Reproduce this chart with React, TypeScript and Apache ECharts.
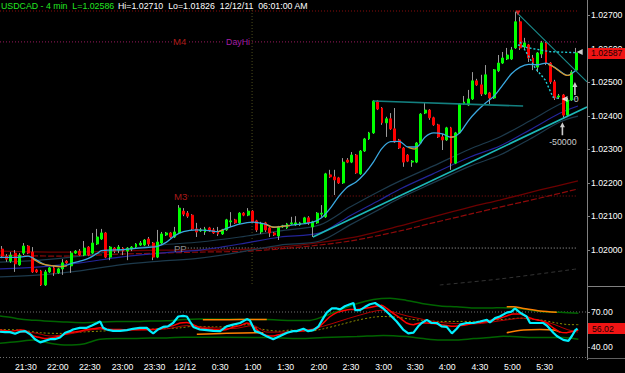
import React, { useEffect, useRef } from "react";
import * as echarts from "echarts";

// ---------- DATA ----------
const SLOT_COUNT = 136;

const opens = [1.02003,1.01982,1.01967,1.01991,1.01956,1.01991,1.02012,1.01994,1.01941,1.01938,
1.01896,1.01935,1.01947,1.01932,1.01944,1.01967,1.01953,1.01991,1.01997,1.01985,
1.02009,1.01991,1.02018,1.02033,1.02051,1.01979,1.02006,1.02000,1.02006,1.01997,
1.02003,1.02009,1.02015,1.02015,1.02033,1.02021,1.01979,1.02021,1.02045,1.02051,
1.02039,1.02051,1.02116,1.02110,1.02104,1.02063,1.02057,1.02054,1.02066,1.02060,
1.02054,1.02048,1.02060,1.02084,1.02090,1.02081,1.02110,1.02104,1.02116,1.02087,
1.02054,1.02081,1.02066,1.02051,1.02042,1.02069,1.02066,1.02078,1.02075,1.02075,
1.02081,1.02096,1.02069,1.02081,1.02107,1.02099,1.02224,1.02218,1.02215,1.02200,
1.02268,1.02262,1.02283,1.02227,1.02295,1.02331,1.02349,1.02444,1.02423,1.02379,
1.02391,1.02361,1.02328,1.02304,1.02283,1.02262,1.02262,1.02319,1.02408,1.02417,
1.02394,1.02373,1.02337,1.02328,1.02364,1.02259,1.02349,1.02435,1.02432,1.02450,
1.02504,1.02492,1.02465,1.02468,1.02453,1.02534,1.02557,1.02569,1.02569,1.02602,
1.02680,1.02605,1.02611,1.02572,1.02545,1.02584,1.02617,1.02557,1.02501,1.02456,
1.02462,1.02402,1.02447,1.02536];

const closes = [1.01982,1.01973,1.01985,1.01959,1.01985,1.02012,1.01991,1.01935,1.01935,1.01896,
1.01935,1.01947,1.01932,1.01944,1.01962,1.01962,1.01991,1.01997,1.01985,1.02006,
1.01985,1.02021,1.02039,1.02051,1.01979,1.02009,1.01997,1.02009,1.01997,1.02006,
1.02009,1.02018,1.02021,1.02030,1.02018,1.01979,1.02024,1.02048,1.02051,1.02039,
1.02054,1.02125,1.02107,1.02101,1.02063,1.02054,1.02060,1.02063,1.02057,1.02051,
1.02048,1.02060,1.02090,1.02087,1.02081,1.02110,1.02104,1.02116,1.02084,1.02060,
1.02078,1.02060,1.02051,1.02045,1.02069,1.02072,1.02078,1.02081,1.02081,1.02081,
1.02096,1.02081,1.02084,1.02110,1.02110,1.02227,1.02218,1.02209,1.02200,1.02262,
1.02262,1.02283,1.02230,1.02295,1.02331,1.02349,1.02444,1.02420,1.02379,1.02391,
1.02361,1.02322,1.02304,1.02262,1.02265,1.02265,1.02319,1.02405,1.02417,1.02394,
1.02373,1.02337,1.02328,1.02364,1.02259,1.02349,1.02435,1.02441,1.02450,1.02504,
1.02492,1.02465,1.02522,1.02453,1.02537,1.02557,1.02572,1.02581,1.02596,1.02680,
1.02602,1.02617,1.02572,1.02557,1.02587,1.02617,1.02557,1.02501,1.02453,1.02459,
1.02402,1.02447,1.02530,1.02587];

const lows = [1.01976,1.01965,1.01962,1.01935,1.01953,1.01985,1.01988,1.01932,1.01932,1.01893,
1.01893,1.01932,1.01923,1.01929,1.01926,1.01959,1.01932,1.01988,1.01982,1.01982,
1.01982,1.01988,1.02015,1.02030,1.01976,1.01970,1.01991,1.01991,1.01985,1.01970,
1.01997,1.02006,1.02012,1.02012,1.02012,1.01970,1.01976,1.02018,1.02042,1.02036,
1.02036,1.02048,1.02101,1.02096,1.02060,1.02039,1.02054,1.02045,1.02054,1.02048,
1.02042,1.02045,1.02057,1.02069,1.02078,1.02078,1.02101,1.02101,1.02081,1.02054,
1.02048,1.02054,1.02039,1.02042,1.02030,1.02066,1.02063,1.02075,1.02072,1.02072,
1.02078,1.02075,1.02039,1.02078,1.02099,1.02096,1.02215,1.02164,1.02197,1.02197,
1.02259,1.02259,1.02227,1.02224,1.02292,1.02328,1.02346,1.02417,1.02373,1.02337,
1.02358,1.02319,1.02301,1.02248,1.02262,1.02248,1.02259,1.02316,1.02405,1.02388,
1.02370,1.02334,1.02298,1.02325,1.02239,1.02256,1.02346,1.02432,1.02429,1.02447,
1.02489,1.02459,1.02462,1.02435,1.02450,1.02530,1.02554,1.02566,1.02566,1.02599,
1.02596,1.02599,1.02560,1.02536,1.02530,1.02572,1.02551,1.02495,1.02447,1.02450,
1.02394,1.02396,1.02444,1.02533];

const highs = [1.02012,1.01988,1.01994,1.02000,1.01991,1.02021,1.02015,1.02009,1.01944,1.01941,
1.01941,1.01950,1.01953,1.01947,1.01973,1.01970,1.01997,1.02000,1.02003,1.02027,
1.02012,1.02051,1.02063,1.02063,1.02054,1.02012,1.02009,1.02015,1.02009,1.02009,
1.02012,1.02021,1.02027,1.02033,1.02039,1.02024,1.02060,1.02054,1.02054,1.02054,
1.02069,1.02134,1.02125,1.02116,1.02107,1.02081,1.02066,1.02069,1.02069,1.02066,
1.02069,1.02063,1.02093,1.02113,1.02093,1.02113,1.02113,1.02125,1.02119,1.02090,
1.02084,1.02084,1.02069,1.02054,1.02072,1.02075,1.02081,1.02099,1.02101,1.02084,
1.02099,1.02101,1.02087,1.02113,1.02134,1.02230,1.02239,1.02239,1.02218,1.02274,
1.02274,1.02292,1.02286,1.02298,1.02334,1.02352,1.02447,1.02447,1.02426,1.02397,
1.02408,1.02423,1.02331,1.02307,1.02286,1.02268,1.02322,1.02408,1.02438,1.02420,
1.02397,1.02376,1.02346,1.02367,1.02367,1.02352,1.02438,1.02459,1.02477,1.02530,
1.02510,1.02522,1.02551,1.02471,1.02539,1.02581,1.02590,1.02602,1.02605,1.02710,
1.02694,1.02632,1.02614,1.02581,1.02590,1.02623,1.02620,1.02560,1.02507,1.02465,
1.02465,1.02453,1.02536,1.02602];

const lastPrice = 1.02587;
const lastOsc = 56.02;

const priceTicks = [1.02, 1.021, 1.022, 1.023, 1.024, 1.025, 1.026, 1.027];
const oscTicks = [40, 70];
const timeLabelIdx = [5.5, 12.9, 20.3, 27.9, 35.3, 42.4, 50.5, 58.1, 65.7, 73.4, 80.8, 88.4, 95.7, 103.1, 110.7, 118.2, 125.7];
const timeLabels = ["21:30","22:00","22:30","23:00","23:30","12/12","0:30","1:00","1:30","2:00","2:30","3:00","3:30","4:00","4:30","5:00","5:30"];

// moving averages: [bar index, price]
const fastMA = [[-0.5,1.01978],[3,1.01978],[6,1.01982],[8,1.01970],[10,1.01956],[12,1.01953],[14,1.01951],[16,1.01960],[18,1.01967],[20,1.01975],[22,1.01990],[23,1.01998],[25,1.02000],[28,1.02001],[31,1.02005],[34,1.02008],[36,1.02011],[38,1.02023],[40,1.02043],[42,1.02055],[45,1.02060],[48,1.02058],[50,1.02055],[52,1.02065],[55,1.02077],[58,1.02083],[61,1.02077],[63,1.02068],[65,1.02071],[67,1.02074],[70,1.02079],[72,1.02083],[74,1.02096],[76,1.02124],[78,1.02160],[80,1.02188],[82,1.02203],[84,1.02228],[86,1.02262],[88,1.02303],[90,1.02323],[92,1.02324],[94,1.02307],[96,1.02307],[98,1.02337],[100,1.02349],[102,1.02346],[104,1.02336],[106,1.02349],[108,1.02385],[110,1.02414],[112,1.02438],[114,1.02459],[116,1.02492],[118,1.02525],[120,1.02545],[122,1.02553],[124,1.02552],[126,1.02557],[128,1.02544],[130,1.02526],[131,1.02520],[132,1.02526],[133,1.02536]];
const fastMAFalling = [
  [[7.1,1.01975],[8.8,1.01961],[10.3,1.01956],[11.8,1.01953],[13.4,1.01951],[15,1.01953]],
  [[50.1,1.02055],[51.2,1.02060]],
  [[61.3,1.02075],[62.8,1.02068],[64.4,1.02070],[66.7,1.02073]],
  [[94.1,1.02306],[95.5,1.02301],[96.3,1.02306]],
  [[103.8,1.02336],[104.9,1.02338]],
  [[126.5,1.02553],[127.7,1.02546],[129.25,1.02531],[130.4,1.02522],[131.2,1.02520],[132,1.02527]],
];
const midMA = [[-0.5,1.01944],[8.8,1.01950],[18,1.01962],[27.3,1.01979],[36.6,1.01991],[45.8,1.02000],[55.1,1.02018],[64.4,1.02039],[73.6,1.02051],[80.6,1.02102],[87.5,1.02149],[92.2,1.02182],[99.8,1.02227],[108.4,1.02277],[115.3,1.02310],[122.3,1.02358],[129.3,1.02408],[133.4,1.02429]];
const envUpper = [[-0.5,1.01964],[8.8,1.01970],[18,1.01982],[27.3,1.02000],[36.6,1.02015],[45.8,1.02024],[55.1,1.02039],[64.4,1.02057],[73.6,1.02075],[80.6,1.02128],[87.5,1.02176],[92.2,1.02206],[99.8,1.02250],[108.4,1.02301],[115.3,1.02337],[122.3,1.02385],[129.3,1.02435],[133.4,1.02453]];
const envLower = [[-0.5,1.01920],[8.8,1.01926],[18,1.01938],[27.3,1.01956],[36.6,1.01967],[45.8,1.01976],[55.1,1.01994],[64.4,1.02015],[73.6,1.02027],[80.6,1.02075],[87.5,1.02122],[92.2,1.02155],[99.8,1.02200],[108.4,1.02250],[115.3,1.02283],[122.3,1.02331],[129.3,1.02382],[133.4,1.02399]];
const slowMA1 = [[-0.5,1.01997],[13.4,1.01994],[27.3,1.01997],[36.6,1.02000],[45.8,1.02000],[57.4,1.02003],[69,1.02015],[80.6,1.02036],[92.2,1.02072],[99.8,1.02099],[108.4,1.02128],[115.3,1.02149],[124.6,1.02179],[133.4,1.02206]];
const slowMA2 = [[-0.5,1.01985],[13.4,1.01982],[27.3,1.01988],[36.6,1.01991],[45.8,1.01994],[57.4,1.01997],[69,1.02009],[80.6,1.02027],[92.2,1.02057],[99.8,1.02081],[108.4,1.02107],[115.3,1.02128],[124.6,1.02155],[133.4,1.02182]];
const slowMA3 = [[101.4,1.01896],[115.3,1.01914],[133.2,1.01944]];

const trendUp = [[72,1.02039],[135.5,1.02426]];
const resistance = [[86,1.02444],[120.7,1.02429]];
const trendDown = [[119,1.02710],[135.5,1.02501]];
const dottedA = [[119.5,1.02611],[121.6,1.02603],[126.9,1.02591],[132.7,1.02588]];
const dottedB = [[120,1.02620],[121.8,1.02581],[123.5,1.02542],[125.8,1.02507],[127.6,1.02456],[129.3,1.02450]];

const levelValues = [1.02712, 1.02620, 1.02161, 1.02006];
const levelStart = [-0.5, -0.5, 43, 43];
const levelEnd = 133.2;
const sessionBar = 57.9;

const arrowPoints = [[132.7,1.02481],[129.8,1.02361]];
const arrowTexts = [{ idx: 133.0, price: 1.02450, text: "0" }, { idx: 129.9, price: 1.02322, text: "-50000" }];
const flagPoints = [[133.8,1.02590],[130.3,1.02450]];
const topMark = [[119.5,1.02706]];

// oscillator panel: [bar index, value]
const oscMain = [[-0.5,53.3],[0.7,53],[1.8,53],[3,51.6],[4.1,53.3],[5.3,53.8],[6.5,51.1],[7.6,47],[8.8,44.3],[9.9,45.6],[11.1,47],[12.2,47],[13.4,48.4],[14.6,52.5],[15.7,53.8],[16.4,55.2],[18,56.6],[19.6,56.6],[20.8,58.5],[22,60.7],[22.7,62],[23.4,56.6],[24.2,55.2],[25.7,54.1],[27.3,54.1],[28.9,54.7],[30.3,55.8],[31.9,56.6],[33.5,56.6],[34.3,53.8],[35,51.9],[36.1,55.2],[37.3,57.4],[38.4,57.9],[39.6,60.7],[40.8,66.2],[41.9,66.7],[42.8,66.2],[43.5,62],[44.3,57.4],[45.8,55.2],[47.4,54.7],[48.9,54.1],[50.5,53.8],[52,57.9],[53.5,59.3],[55.1,60.7],[56.7,64],[57.4,62.9],[58.6,53.8],[59.7,52.5],[61.4,49.2],[62.8,47],[64.4,49.7],[66,52.5],[67.4,53.8],[68.2,53.8],[69.8,55.8],[70.9,53.8],[72.1,54.7],[73.3,57.9],[74.4,64.8],[75.2,69.5],[76.4,73],[77.5,73],[78.3,72.2],[79.4,74.9],[80.6,76.6],[81.4,77.6],[81.8,71.6],[82.9,71.6],[84.1,74.4],[85.2,76.6],[86.4,77.6],[87.2,75.7],[88.3,73],[89.9,67.5],[91.4,62],[92.9,55.2],[94.1,51.9],[95.3,52.5],[96.4,57.9],[97.2,60.7],[98.4,63.4],[99.5,60.7],[100.7,60.7],[101.8,57.9],[103,57.4],[104.2,51.9],[105.3,55.8],[106.1,59.3],[107.6,60.7],[109.2,60.7],[110.7,62],[112.3,63.4],[113,61.2],[114.2,64.8],[115.3,66.2],[116.9,69.5],[118,70.3],[118.8,73],[120,69.5],[121.5,66.2],[122.3,60.7],[123.8,60.7],[125.4,60.7],[126.2,58.5],[127.7,52.5],[128.5,49.7],[130,46.4],[131.2,45.6],[132,49.7],[132.8,54.7],[133.3,56]];
const oscSignal = [[-0.5,54.7],[1.8,53.8],[4.1,54.7],[5.7,53.8],[7.2,49.7],[8.8,48.4],[10.3,47.5],[11.9,48.4],[13.4,49.7],[15,51.9],[16.5,53],[18,53.8],[19.6,55.2],[21.1,55.8],[22.7,56.6],[24.2,55.2],[25.8,55.2],[27.3,55.2],[28.9,54.7],[30.4,55.2],[31.9,55.2],[33.5,55.2],[35,55.2],[36.6,55.8],[38.1,57.4],[39.7,58.5],[41.2,60.7],[42.8,61.2],[44.3,59.3],[45.8,56.6],[47.4,55.8],[48.9,55.2],[50.5,54.7],[52,55.2],[53.6,57.4],[55.1,58.5],[56.7,60.7],[58.2,57.9],[59.7,53],[61.3,50.2],[62.8,49.7],[64.4,51.1],[65.9,52.5],[67.5,53.8],[69,53.8],[71.3,54.7],[72.9,55.8],[74.4,60.7],[76,66.2],[77.5,69.5],[79,71.1],[80.6,72.2],[82.1,72.2],[83.7,73],[85.2,73.9],[86.8,75],[87.9,75.7],[89.1,73],[90.6,68.9],[92.2,64.8],[93.7,60.7],[95.3,59.3],[96.8,60.7],[98.4,60.7],[99.9,60.2],[101.5,59.3],[103,58.5],[104.5,57.9],[106.1,58.5],[107.6,59.3],[109.2,60.7],[110.7,61.2],[112.3,62],[113.8,63.4],[115.4,64.8],[116.9,66.7],[118.4,68.3],[120,68.3],[121.5,66.2],[123.1,64],[124.6,62.9],[126.2,60.7],[127.7,56.6],[129.3,53],[130.8,52.5],[132.4,53.8],[133.5,54.7]];
const oscSlow = [[-0.5,53.0],[7.2,52.5],[11.1,49.7],[15,51.1],[22.7,55.5],[30.4,54.7],[38.1,55.8],[42.8,58.5],[45.8,57.4],[53.5,56.0],[58.1,58.5],[61.4,53.0],[69,53.8],[74.3,57.9],[82.2,66.7],[88.2,71.6],[93.8,66.7],[101.5,61.2],[109.1,59.9],[117,63.4],[120.7,64.8],[126.9,60.7],[130.9,55.2],[133.4,53.0]];
const bandUpper = [[-0.5,66.7],[1.8,65.6],[4.1,64],[7.2,63.1],[11.1,62.1],[15,61.5],[18.8,61],[22.7,61.5],[26.5,61.9],[30.4,61.9],[34.3,62.4],[38.1,62.6],[42,63.6],[45.8,64],[61.3,63.6],[66.7,62.9],[71.3,62.9],[74.4,66.2],[78.3,71.6],[82.1,77],[86,80.6],[89.9,81.7],[93.7,79.8],[97.6,77],[101.5,75.1],[105.3,74.4],[109.2,73.4],[113,73.4],[116.1,73.7],[120.8,72.5],[124.6,70.5],[129.3,69.7],[133.5,68.9]];
const bandLower = [[-0.5,43.6],[3.4,44.8],[7.2,46.4],[11.1,43.6],[15,42],[18.8,42.9],[22.7,47],[26.5,47.5],[30.4,47.5],[34.3,48.1],[38.1,48.1],[42,48.6],[50,48.6],[61.3,48.4],[69,47.5],[74.4,48.4],[82.2,49.2],[88.3,50.2],[93.7,49.2],[97.6,47.5],[101.5,46.4],[105.3,46.4],[109.2,47.5],[113,48.4],[116.1,49.5],[122,48.5],[130,48.4],[133.5,47]];
const bandUpperAlt = [
  [[46.5,63.4],[50,63.4],[55,63.6],[61.3,63.6]],
  [[116.9,74.4],[118.4,74.4],[120.8,73],[124.6,70.8],[128.5,69.7]],
];
const bandLowerAlt = [
  [[45.1,51.1],[52,52],[60.5,52.5]],
  [[116.9,52.5],[120.8,54.7],[124.6,55.2],[127.7,54.7],[129.3,53]],
];
const oscMid = [[-0.5,55.2],[4.1,54.7],[8.8,52.5],[13.4,51.9],[18,53],[22.7,53.8],[27.3,54.7],[31.9,55.2],[36.6,55.8],[41.2,56.6],[44.3,57.9],[48.9,57.4],[53.6,57.9],[56.7,59.3],[59.7,55.8],[64.4,53.8],[66.7,54.7],[71.3,53.8],[74.4,55.8],[78.3,59.3],[82.1,62.9],[86,65.6],[88.3,66.2],[91.4,65.6],[94.5,64],[97.6,62.9],[101.5,62],[105.3,62],[109.2,62],[113,62.9],[116.9,64],[120,64.8],[122.3,64],[125.4,62.9],[128.5,60.7],[131.6,59.3],[133.5,59.3]];
const oscLevel = 70;

// ---------- CHART ----------
const FONT = '"Liberation Sans", Arial, sans-serif';
const PMIN = 1.01893, PMAX = 1.02715;
const OMIN = 31.1, OMAX = 92.0;

function line(data: any, color: string, width: number, extra: any = {}) {
  return {
    type: "line", data, xAxisIndex: extra.grid === 1 ? 2 : 1, yAxisIndex: extra.grid === 1 ? 1 : 0,
    symbol: "none", silent: true, smooth: extra.smooth ?? false, z: extra.z ?? 3,
    lineStyle: { color, width, type: extra.type ?? "solid" },
  };
}

function buildOption() {
  const cats = opens.map((_, i) => String(i));
  while (cats.length < SLOT_COUNT) cats.push("");
  const wicks = opens.map((_, i) => [lows[i], lows[i], lows[i], highs[i]]);
  const bodies = opens.map((o, i) => [o, closes[i], Math.min(o, closes[i]), Math.max(o, closes[i])]);
  const series: any[] = [];

  levelValues.forEach((v, i) => {
    const colors = ["#8a0c0c", "#9a1a5c", "#8e1212", "#a8a8a8"];
    series.push(line([[levelStart[i], v], [levelEnd, v]], colors[i], 1, { type: [1, 2], z: 1 }));
  });
  series.push(line([[sessionBar, PMAX], [sessionBar, PMIN]], "#4c4c1c", 1, { type: [1, 2], z: 1 }));

  series.push(line(slowMA3, "#333333", 1, { type: [4, 3], smooth: 0.3, z: 2 }));
  series.push(line(slowMA1, "#6c0000", 1.3, { smooth: 0.3, z: 2 }));
  series.push(line(slowMA2, "#8e0a0a", 1.2, { type: [6, 2], smooth: 0.3, z: 2 }));
  series.push(line(envUpper, "#1d3a4c", 1.2, { smooth: 0.3, z: 2 }));
  series.push(line(envLower, "#1d3a4c", 1.2, { smooth: 0.3, z: 2 }));
  series.push(line(midMA, "#24249a", 1.2, { smooth: 0.3, z: 2 }));

  series.push({
    type: "candlestick", xAxisIndex: 0, yAxisIndex: 0, data: wicks, barWidth: 1, silent: true, z: 4,
    itemStyle: { color: "#9a9a9a", color0: "#9a9a9a", borderColor: "#9a9a9a", borderColor0: "#9a9a9a", borderColorDoji: "#9a9a9a", borderWidth: 1 },
  });
  series.push({
    type: "candlestick", xAxisIndex: 0, yAxisIndex: 0, data: bodies, barWidth: 2.4, silent: true, z: 5,
    itemStyle: { color: "#00ff00", color0: "#ff0000", borderColor: "#00ff00", borderColor0: "#ff0000", borderColorDoji: "#00ff00", borderWidth: 1 },
  });

  series.push(line(fastMA, "#3aa8e0", 1.3, { smooth: 0.3, z: 6 }));
  fastMAFalling.forEach((seg) => series.push(line(seg, "#d8962a", 1.3, { smooth: 0.3, z: 7 })));
  series.push(line(trendUp, "#1cb8b8", 1.6, { z: 6 }));
  series.push(line(resistance, "#138080", 1.6, { z: 6 }));
  series.push(line(trendDown, "#1a8e8e", 1.1, { z: 6 }));
  series.push(line(dottedA, "#20d0d8", 1.4, { type: [2, 2], z: 6 }));
  series.push(line(dottedB, "#20d0d8", 1.4, { type: [2, 2], z: 6 }));

  const arrowPath = "path://M5,0 L10,6 L6.6,6 L6.6,16 L3.4,16 L3.4,6 L0,6 Z";
  series.push({ type: "scatter", xAxisIndex: 1, yAxisIndex: 0, data: arrowPoints, symbol: arrowPath, symbolSize: [5, 13], silent: true, z: 9, itemStyle: { color: "#ffffff" } });
  series.push({ type: "scatter", xAxisIndex: 1, yAxisIndex: 0, data: flagPoints, symbol: "triangle", symbolRotate: 90, symbolSize: 6, silent: true, z: 9, itemStyle: { color: "#ffffff" } });
  series.push({ type: "scatter", xAxisIndex: 1, yAxisIndex: 0, data: topMark, symbol: "triangle", symbolRotate: 180, symbolSize: 5, silent: true, z: 9, itemStyle: { color: "#ff2020" } });
  series.push({
    type: "scatter", xAxisIndex: 1, yAxisIndex: 0, symbolSize: 0, silent: true, z: 9,
    data: arrowTexts.map((t) => ({ value: [t.idx, t.price], name: t.text })),
    label: { show: true, position: "inside", formatter: (p: any) => p.name, color: "#ffffff", fontSize: 8.8, fontFamily: FONT },
  });

  // oscillator
  series.push(line([[-0.5, oscLevel], [135.5, oscLevel]], "#707070", 1, { grid: 1, type: [1, 2], z: 1 }));
  series.push(line(bandUpper, "#006400", 1.5, { grid: 1, smooth: 0.3, z: 2 }));
  series.push(line(bandLower, "#006400", 1.5, { grid: 1, smooth: 0.3, z: 2 }));
  bandUpperAlt.forEach((s) => series.push(line(s, "#ff8000", 1.5, { grid: 1, smooth: 0.3, z: 3 })));
  bandLowerAlt.forEach((s) => series.push(line(s, "#ff8000", 1.5, { grid: 1, smooth: 0.3, z: 3 })));
  series.push(line(oscMid, "#8c8c00", 1, { grid: 1, type: [2, 2], smooth: 0.3, z: 3 }));
  series.push(line(oscSlow, "#b40000", 1, { grid: 1, smooth: 0.3, z: 4 }));
  series.push(line(oscSignal, "#ff0000", 1.5, { grid: 1, smooth: 0.2, z: 5 }));
  series.push(line(oscMain, "#00f0ff", 2.2, { grid: 1, z: 6 }));

  return {
    animation: false,
    backgroundColor: "#000000",
    grid: [
      { left: 0, right: 38, top: 10, height: 276 },
      { left: 0, right: 38, top: 286, height: 72 },
    ],
    xAxis: [
      { type: "category", gridIndex: 0, data: cats, boundaryGap: true, show: false },
      { type: "value", gridIndex: 0, min: -0.5, max: SLOT_COUNT - 0.5, show: false },
      {
        type: "value", gridIndex: 1, min: -0.5, max: SLOT_COUNT - 0.5,
        splitLine: { show: false }, axisLine: { show: false }, axisTick: { show: false },
        axisLabel: {
          customValues: timeLabelIdx, color: "#ffffff", fontSize: 8.7, fontFamily: FONT, margin: 4,
          formatter: (v: number) => { const k = timeLabelIdx.findIndex((t) => Math.abs(t - v) < 1e-6); return k >= 0 ? timeLabels[k] : ""; },
        },
      },
    ],
    yAxis: [
      { type: "value", gridIndex: 0, position: "right", min: PMIN, max: PMAX, show: false },
      { type: "value", gridIndex: 1, position: "right", min: OMIN, max: OMAX, show: false },
    ],
    series,
  };
}

function txt(x: number, y: number, text: string, fill: string, size: number, align = "left", bg?: string) {
  return {
    type: "text", x, y, z: 70,
    style: {
      text, fill, font: `${size}px ${FONT}`, align, textAlign: align, verticalAlign: "middle", textVerticalAlign: "middle",
      backgroundColor: bg, padding: bg ? [0, 1] : 0,
    },
  };
}

export default function App() {
  const ref = useRef<HTMLDivElement>(null);
  useEffect(() => {
    const chart = echarts.init(ref.current!, null, { renderer: "svg" });
    chart.setOption(buildOption() as any);
    const px = (i: number) => chart.convertToPixel({ xAxisIndex: 1 } as any, i) as unknown as number;
    const py = (v: number) => chart.convertToPixel({ yAxisIndex: 0 } as any, v) as unknown as number;
    const po = (v: number) => chart.convertToPixel({ yAxisIndex: 1 } as any, v) as unknown as number;
    const yTag = py(lastPrice);
    const yOsc = po(lastOsc);
    const axisMarks: any[] = [];
    priceTicks.forEach((v) => {
      const y = Math.round(py(v)) + 0.5;
      axisMarks.push({ type: "line", z: 40, shape: { x1: 587, y1: y, x2: 590, y2: y }, style: { stroke: "#808080", lineWidth: 1 } });
      axisMarks.push(txt(591, py(v), v.toFixed(5), "#ffffff", 8.7));
    });
    oscTicks.forEach((v) => {
      const y = Math.round(po(v)) + 0.5;
      axisMarks.push({ type: "line", z: 40, shape: { x1: 587, y1: y, x2: 590, y2: y }, style: { stroke: "#808080", lineWidth: 1 } });
      axisMarks.push(txt(591, po(v), v.toFixed(2), "#ffffff", 8.7));
    });
    const graphic: any[] = [
      txt(1, 6, "USDCAD - 4 min  L=1.02586", "#22e622", 8.8),
      txt(118, 6, "Hi=1.02710  Lo=1.01826  12/12/11  06:01:00 AM", "#ffffff", 8.8),
      { type: "line", z: 40, shape: { x1: 587.5, y1: 0, x2: 587.5, y2: 360 }, style: { stroke: "#808080", lineWidth: 1 } },
      { type: "line", z: 40, shape: { x1: 587, y1: 286.5, x2: 625, y2: 286.5 }, style: { stroke: "#808080", lineWidth: 1 } },
      { type: "line", z: 40, shape: { x1: 0, y1: 357.5, x2: 587, y2: 357.5 }, style: { stroke: "#707070", lineWidth: 1, lineDash: [1, 2] } },
      { type: "line", z: 40, shape: { x1: 587, y1: 358.5, x2: 625, y2: 358.5 }, style: { stroke: "#606060", lineWidth: 1 } },
      ...axisMarks,
      txt(px(43) - 0.5, py(levelValues[1]), "M4", "#b01c1c", 9.6, "right", "#000000"),
      txt(px(sessionBar) - 1, py(levelValues[1]), "DayHi", "#a41ea4", 8.8, "right", "#000000"),
      txt(px(43) - 0.5, py(levelValues[2]), "M3", "#a81a1a", 9.6, "right"),
      txt(px(43) - 1, py(levelValues[3]), "PP", "#8c8c8c", 9.6, "right"),
      { type: "rect", z: 75, shape: { x: 588, y: yTag - 5, width: 37, height: 11 }, style: { fill: "#f01414" } },
      { ...txt(591, yTag + 0.5, lastPrice.toFixed(5), "#1a0000", 8.7), z: 80 },
      { type: "rect", z: 75, shape: { x: 588, y: yOsc - 5.5, width: 37, height: 11 }, style: { fill: "#f01414" } },
      { ...txt(592, yOsc, lastOsc.toFixed(2), "#1a0000", 8.7), z: 80 },
    ];
    chart.setOption({ graphic });
    return () => chart.dispose();
  }, []);
  return <div ref={ref} style={{ position: "fixed", left: 0, top: 0, width: 625, height: 373, background: "#000" }} />;
}
